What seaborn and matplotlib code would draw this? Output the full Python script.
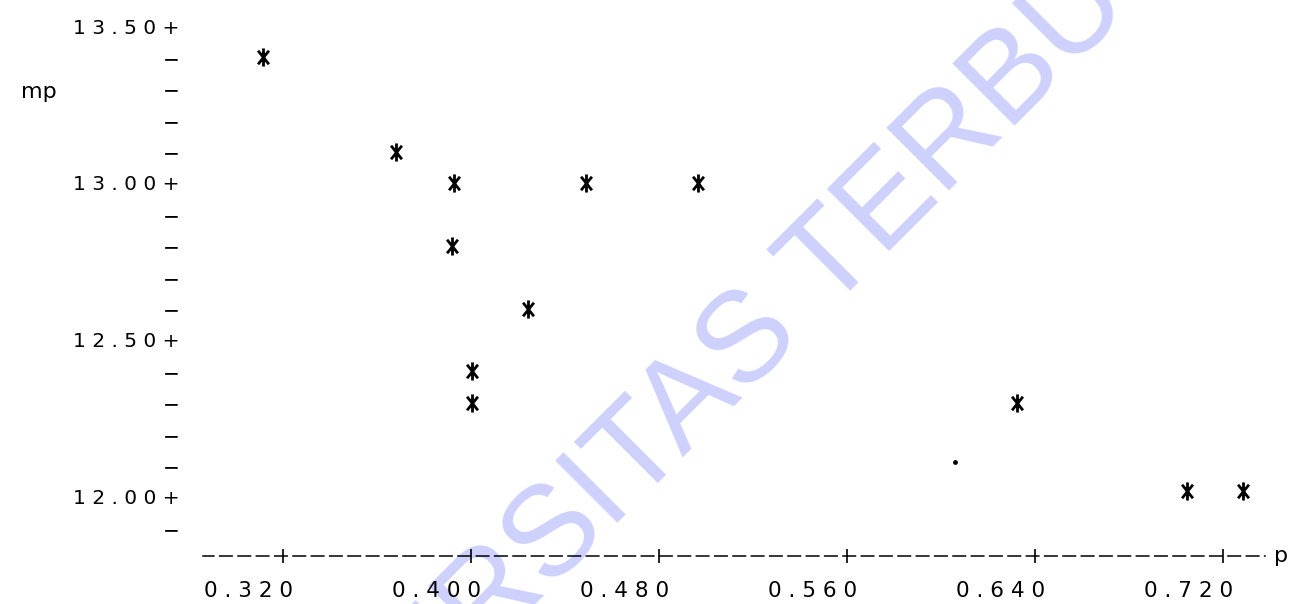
import matplotlib
matplotlib.use("Agg")
import matplotlib.pyplot as plt
from matplotlib.path import Path
from matplotlib.transforms import ScaledTranslation
import seaborn as sns
import pandas as pd

# ---- data ----
p_values = [0.3115, 0.3681, 0.3928, 0.4489, 0.4966, 0.3919, 0.4243, 0.4004, 0.4004, 0.6323, 0.7047, 0.7285]
mp_values = [13.40, 13.10, 13.00, 13.00, 13.00, 12.80, 12.60, 12.40, 12.30, 12.30, 12.02, 12.02]
dot_p = [0.6060]
dot_mp = [12.11]
x_ticks = [0.320, 0.400, 0.480, 0.560, 0.640, 0.720]
y_ticks = [11.9, 12.0, 12.1, 12.2, 12.3, 12.4, 12.5, 12.6, 12.7, 12.8, 12.9,
           13.0, 13.1, 13.2, 13.3, 13.4, 13.5]
y_major = [12.0, 12.5, 13.0, 13.5]

sns.set_style("white")
plt.rcParams["font.family"] = ["DejaVu Sans"]
plt.rcParams["lines.scale_dashes"] = False
for key in ["text.color", "xtick.color", "ytick.color", "axes.labelcolor"]:
    plt.rcParams[key] = "black"


def spaced(s):
    return " ".join(s)


fig = plt.figure(figsize=(12.91, 6.04), dpi=100)
ax = fig.add_axes([203 / 1291, 48 / 604, 1062 / 1291, 546 / 604])
ax.set_facecolor("none")

# watermark (behind everything)
ax.text(708 / 1291, 1 - 386 / 604, "UNIVERSITAS TERBUKA", transform=fig.transFigure,
        rotation=45, rotation_mode="anchor", fontsize=92, color="#cdd1fb",
        family=["Liberation Sans", "DejaVu Sans"], ha="center", va="center",
        zorder=0, clip_on=False)

# asterisk-like plotting symbol (vertical stem + narrow X)
star = Path([(0, -1), (0, 1), (-0.6, -0.75), (0.6, 0.75), (-0.6, 0.75), (0.6, -0.75)],
            [Path.MOVETO, Path.LINETO, Path.MOVETO, Path.LINETO, Path.MOVETO, Path.LINETO])

df = pd.DataFrame({"p": p_values, "mp": mp_values})
sns.scatterplot(data=df, x="p", y="mp", marker=star, s=170, color="black",
                edgecolor="black", linewidth=2.0, ax=ax, zorder=3, legend=False)
sns.scatterplot(x=dot_p, y=dot_mp, marker="o", s=12, color="black",
                linewidth=0, ax=ax, zorder=3, legend=False)

ax.set_xlim(0.28596, 0.7379)
ax.set_ylim(11.812, 13.551)

ax.set_xticks(x_ticks)
ax.set_xticklabels([spaced(f"{v:.3f}") for v in x_ticks], fontsize=15.5)
ax.set_yticks(y_ticks)
ax.set_yticklabels([spaced(f"{v:.2f}+") if round(v, 1) in y_major else "\u2212"
                    for v in y_ticks], fontsize=14.5)

ax.tick_params(axis="y", left=False, length=0, pad=17)
ax.tick_params(axis="x", bottom=True, direction="inout", length=10, width=1.2,
               pad=13, color="black")
shift = ScaledTranslation(10 / 100, 0, fig.dpi_scale_trans)
for lbl in ax.get_xticklabels():
    lbl.set_horizontalalignment("right")
    lbl.set_transform(lbl.get_transform() + shift)

for s in ["top", "right", "left"]:
    ax.spines[s].set_visible(False)
ax.spines["bottom"].set_color("black")
ax.spines["bottom"].set_linewidth(1.1)
ax.spines["bottom"].set_linestyle((1.2, (9.0, 4.2)))

ax.set_xlabel("p", fontsize=16)
ax.xaxis.set_label_coords(1.015, 0.0)
ax.xaxis.label.set_verticalalignment("center")
ax.set_ylabel("mp", rotation=0, fontsize=16)
ax.yaxis.set_label_coords(-0.155, 0.85)
ax.yaxis.label.set_verticalalignment("center")

fig.savefig("out.png", dpi=100)
